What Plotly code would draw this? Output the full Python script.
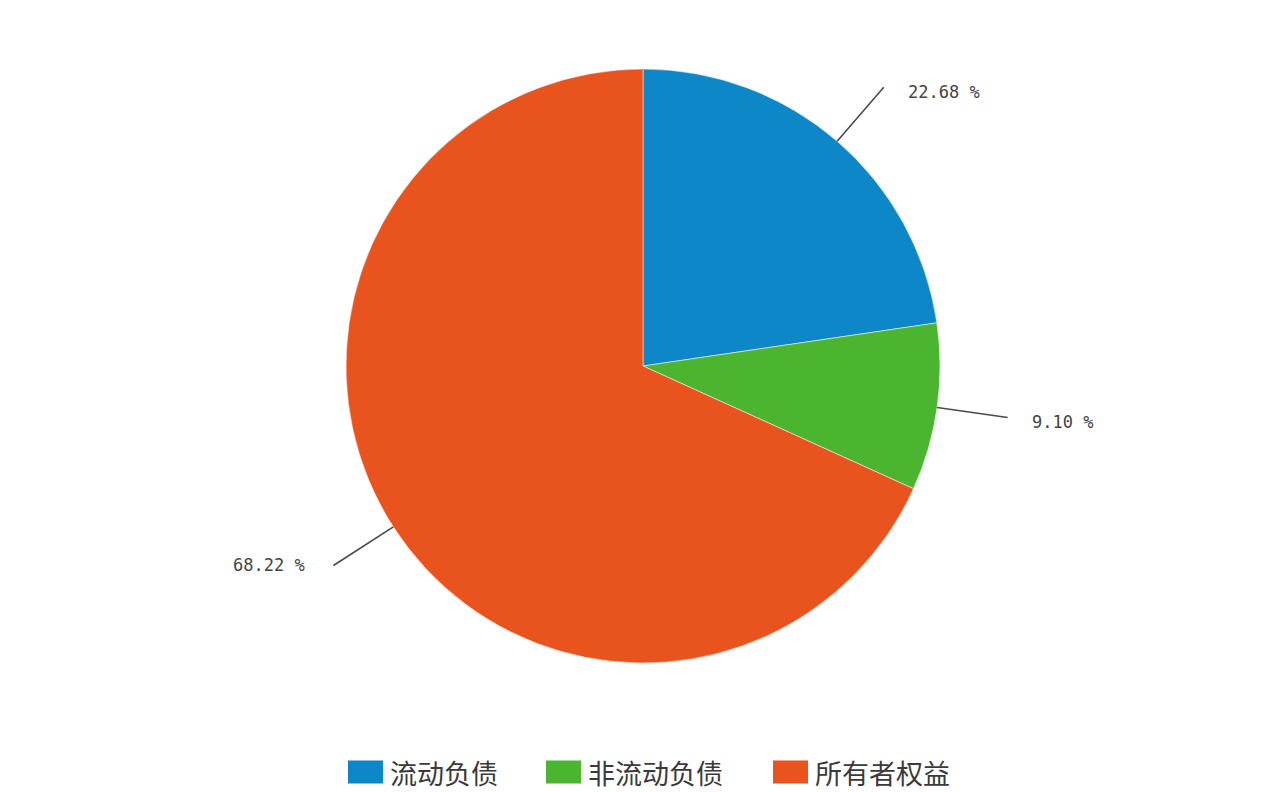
import math
import plotly.graph_objects as go

labels = ["流动负债", "非流动负债", "所有者权益"]
values = [22.68, 9.10, 68.22]
colors = ["#0e87c9", "#4bb530", "#e9531d"]
text_labels = ["22.68 %", "9.10 %", "68.22 %"]

OFF = 8  # default page body margin
W, H = 1281 - OFF, 792 - OFF
cx, cy, r = 643, 366, 297  # page pixel geometry


def px2paper(x, y):
    return (x - OFF) / W, (H - (y - OFF)) / H


dx0, dy0 = px2paper(cx - r, cy + r)
dx1, dy1 = px2paper(cx + r, cy - r)
fig = go.Figure(go.Pie(
    labels=labels, values=values, sort=False, direction="clockwise", rotation=0,
    marker=dict(colors=colors, line=dict(color="rgba(255,255,255,0.5)", width=1)),
    textinfo="none", hoverinfo="label+percent", showlegend=False,
    domain=dict(x=[dx0, dx1], y=[dy0, dy1]),
))

total = sum(values)
cum = 0
for v, t in zip(values, text_labels):
    mid = (cum + v / 2) / total * 2 * math.pi
    cum += v
    s, c = math.sin(mid), math.cos(mid)
    x0, y0 = cx + r * s, cy - r * c
    x1, y1 = cx + r * 1.24 * s, cy - r * 1.24 * c
    ax0, ay0 = px2paper(x0, y0)
    ax1, ay1 = px2paper(x1, y1)
    fig.add_shape(type="line", xref="paper", yref="paper", x0=ax0, y0=ay0, x1=ax1, y1=ay1,
                  line=dict(color="#4a4a4a", width=1.6))
    right = s >= 0
    tx, ty = px2paper(x1 + (22 if right else -26), y1 + (5 if right else 0))
    fig.add_annotation(xref="paper", yref="paper", x=tx, y=ty, text=t, showarrow=False,
                       xanchor="left" if right else "right", yanchor="middle",
                       font=dict(family="DejaVu Sans Mono", size=17, color="#444444"))

# manual legend (large square swatches)
char_w, sq_w, sq_h, gap_txt, gap_item = 29, 35, 23, 7, 40
lx, ly = 348, 772
for lab, col in zip(labels, colors):
    a0, b0 = px2paper(lx, ly + sq_h / 2)
    a1, b1 = px2paper(lx + sq_w, ly - sq_h / 2)
    fig.add_shape(type="rect", xref="paper", yref="paper", x0=a0, y0=b0, x1=a1, y1=b1,
                  fillcolor=col, line=dict(width=0))
    ta, tb = px2paper(lx + sq_w + gap_txt, ly)
    fig.add_annotation(xref="paper", yref="paper", x=ta, y=tb, text=lab, showarrow=False,
                       xanchor="left", yanchor="middle", xshift=-2,
                       font=dict(family="Noto Sans CJK SC", size=27, color="#3a3a3a"))
    lx += sq_w + gap_txt + char_w * len(lab) + gap_item

fig.update_layout(
    width=W, height=H, margin=dict(l=0, r=0, t=0, b=0),
    paper_bgcolor="white", plot_bgcolor="white",
)

fig.write_html("out.html")
